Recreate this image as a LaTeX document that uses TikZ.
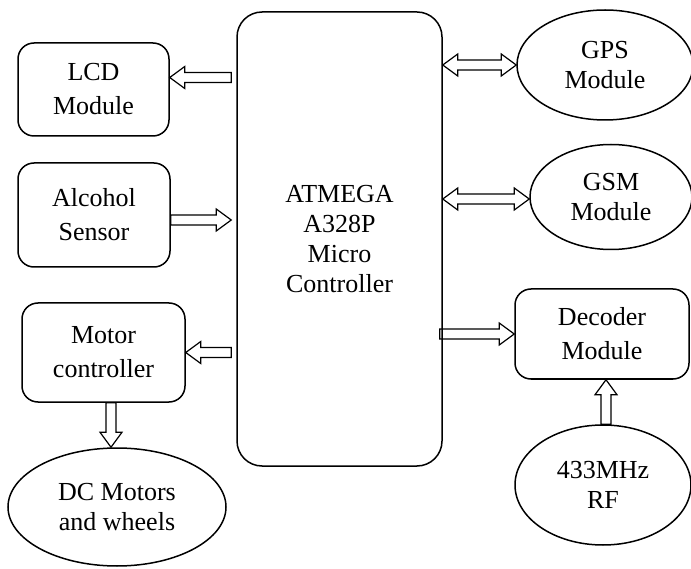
\documentclass[tikz,border=0pt]{standalone}
\usepackage{fontspec}
\setmainfont{Liberation Serif}
\usepackage{tikz}
\usetikzlibrary{shapes.geometric,calc}

\newcommand{\blockarrow}[2]{%
    \coordinate (h) at ($(#2)!15pt!(#1)$);
    \draw[arrowbox] ($(#1)!5pt!90:(#2)$) -- ($(h)!5pt!90:(#2)$) -- ($(h)!11pt!90:(#2)$) -- (#2)
        -- ($(h)!11pt!-90:(#2)$) -- ($(h)!5pt!-90:(#2)$) -- ($(#1)!5pt!-90:(#2)$) -- cycle;}
\newcommand{\blockdarrow}[2]{%
    \coordinate (h1) at ($(#1)!15pt!(#2)$);
    \coordinate (h2) at ($(#2)!15pt!(#1)$);
    \draw[arrowbox] (#1) -- ($(h1)!11pt!90:(#2)$) -- ($(h1)!5pt!90:(#2)$) -- ($(h2)!5pt!90:(#2)$)
        -- ($(h2)!11pt!90:(#2)$) -- (#2) -- ($(h2)!11pt!-90:(#2)$) -- ($(h2)!5pt!-90:(#2)$)
        -- ($(h1)!5pt!-90:(#2)$) -- ($(h1)!11pt!-90:(#2)$) -- cycle;}

\begin{document}
\begin{tikzpicture}[x=1pt,y=-1pt,
                    box/.style={draw,line width=1.5pt,rounded corners=16pt,align=center,inner sep=0pt,font=\fontsize{26}{34}\selectfont},
                    oval/.style={draw,ellipse,line width=1.5pt,align=center,inner sep=0pt,font=\fontsize{26}{30}\selectfont},
                    arrowbox/.style={line width=1.2pt,line join=miter}]
                    \useasboundingbox (0,0) rectangle (691,569);
                    \node[box,minimum width=205pt,minimum height=454pt,rounded corners=25pt,font=\fontsize{26}{30}\selectfont] (main) at (339.5,239) {ATMEGA\\A328P\\Micro\\Controller};
                    \node[box,minimum width=151pt,minimum height=93pt] (lcd) at (93.5,89.5) {LCD\\Module};
                    \node[box,minimum width=152pt,minimum height=104pt] (alc) at (94,215) {Alcohol\\Sensor};
                    \node[box,minimum width=163pt,minimum height=99pt] (motor) at (103.5,352.5) {Motor\\controller};
                    \node[oval,minimum width=218pt,minimum height=118pt] (dc) at (117,507) {DC Motors\\and wheels};
                    \node[oval,minimum width=176pt,minimum height=110pt] (gps) at (605,65) {GPS\\Module};
                    \node[oval,minimum width=162pt,minimum height=105pt] (gsm) at (611,197) {GSM\\Module};
                    \node[box,minimum width=174pt,minimum height=90pt] (dec) at (602,334) {Decoder\\Module};
                    \node[oval,minimum width=176pt,minimum height=120pt] (rf) at (603,485) {433MHz\\RF};

                    \coordinate (lcd-in) at ([yshift=12pt]lcd.east);
                    \coordinate (lcd-out) at ($(main.west |- lcd-in)+(-5,0)$);
                    \blockarrow{lcd-out}{lcd-in}
                    \coordinate (alc-out) at ([yshift=-5pt]alc.east);
                    \coordinate (alc-in) at ($(main.west |- alc-out)+(-5,0)$);
                    \blockarrow{alc-out}{alc-in}
                    \coordinate (motor-in) at (motor.east);
                    \coordinate (motor-out) at ($(main.west |- motor-in)+(-5,0)$);
                    \blockarrow{motor-out}{motor-in}
                    \coordinate (motor-down) at ([xshift=7.5pt]motor.south);
                    \coordinate (dc-in) at (dc.north -| motor-down);
                    \blockarrow{motor-down}{dc-in}
                    \coordinate (gps-in) at (gps.west);
                    \coordinate (gps-out) at (main.east |- gps-in);
                    \blockdarrow{gps-out}{gps-in}
                    \coordinate (gsm-in) at ([yshift=-2pt]gsm.west);
                    \coordinate (gsm-out) at (main.east |- gsm-in);
                    \blockdarrow{gsm-out}{gsm-in}
                    \coordinate (dec-in) at (dec.west);
                    \coordinate (dec-out) at ($(main.east |- dec-in)+(-3,0)$);
                    \blockarrow{dec-out}{dec-in}
                    \coordinate (rf-out) at ([xshift=3pt]rf.north);
                    \coordinate (dec-up) at (dec.south -| rf-out);
                    \blockarrow{rf-out}{dec-up}
                \end{tikzpicture}
\end{document}
